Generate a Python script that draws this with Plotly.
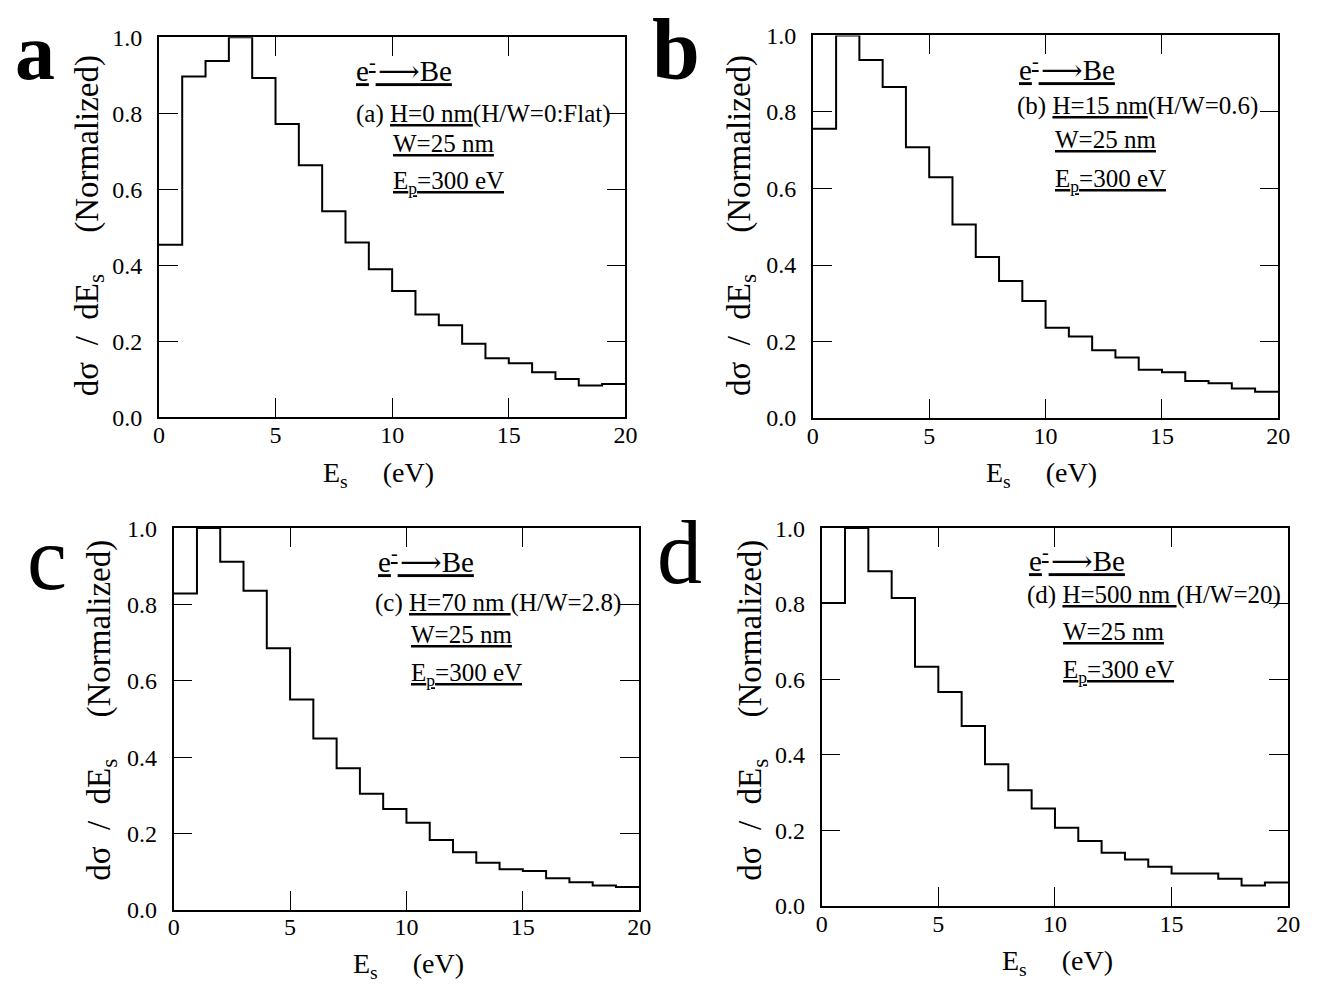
import plotly.graph_objects as go

W, H = 1317, 990

# ---------------- data ----------------
bin_edges = list(range(0, 21))  # Es bins, eV
vals_a = [0.454, 0.897, 0.938, 1.0, 0.893, 0.772, 0.663, 0.542, 0.460, 0.389,
          0.332, 0.270, 0.242, 0.193, 0.155, 0.142, 0.118, 0.100, 0.083, 0.087]
vals_b = [0.756, 1.0, 0.936, 0.865, 0.708, 0.629, 0.506, 0.421, 0.358, 0.306,
          0.236, 0.213, 0.177, 0.158, 0.126, 0.120, 0.097, 0.091, 0.077, 0.069]
vals_c = [0.829, 1.0, 0.912, 0.836, 0.685, 0.551, 0.449, 0.371, 0.304, 0.264,
          0.228, 0.183, 0.151, 0.123, 0.106, 0.102, 0.083, 0.072, 0.064, 0.060]
vals_d = [0.802, 1.0, 0.886, 0.815, 0.633, 0.566, 0.476, 0.375, 0.306, 0.258,
          0.207, 0.172, 0.141, 0.123, 0.104, 0.086, 0.086, 0.072, 0.054, 0.062]
panel_letters = ["a", "b", "c", "d"]
captions = ["(a) <u>H=0 nm</u>(H/W=0:Flat)",
            "(b) <u>H=15 nm</u>(H/W=0.6)",
            "(c) <u>H=70 nm </u>(H/W=2.8)",
            "(d) <u>H=500 nm </u>(H/W=20)"]
x_ticks = [0, 5, 10, 15, 20]
y_ticks = [0.0, 0.2, 0.4, 0.6, 0.8, 1.0]
y_tick_text = ["0.0", "0.2", "0.4", "0.6", "0.8", "1.0"]

# ---------------- layout geometry (pixels) ----------------
FONT = "Liberation Serif, Times New Roman, DejaVu Serif, serif"
panels = [
    dict(vals=vals_a, box=(155, 628, 25, 415), letter=(29, 40, True),
         ytitle=(84, 218), xtitle=(378, 474),
         txt=[(353, 58), (353, 104), (390, 134), (390, 174)]),
    dict(vals=vals_b, box=(818, 1290, 23, 416), letter=(679, 37, True),
         ytitle=(745, 218), xtitle=(1050, 474),
         txt=[(1025, 56), (1023, 96), (1062, 130), (1062, 172)]),
    dict(vals=vals_c, box=(170, 642, 529, 921), letter=(42, 560, False),
         ytitle=(97, 716), xtitle=(408, 978),
         txt=[(375, 562), (372, 606), (409, 638), (409, 679)]),
    dict(vals=vals_d, box=(827, 1300, 529, 917), letter=(683, 554, False),
         ytitle=(757, 716), xtitle=(1066, 975),
         txt=[(1035, 561), (1033, 598), (1070, 635), (1070, 676)]),
]


def px(x):
    return x / W


def py(y):
    return 1 - y / H


fig = go.Figure()
annotations = []
NB = "\u00a0"

for i, p in enumerate(panels):
    n = i + 1
    xa = "x" if n == 1 else f"x{n}"
    ya = "y" if n == 1 else f"y{n}"
    vals = p["vals"]
    xs = bin_edges[:-1] + [bin_edges[-1]]
    ys = vals + [vals[-1]]
    fig.add_trace(go.Scatter(x=xs, y=ys, mode="lines", line_shape="hv",
                             line=dict(color="black", width=2),
                             xaxis=xa, yaxis=ya, showlegend=False,
                             hoverinfo="skip"))
    x0, x1, y0, y1 = p["box"]
    axis_common = dict(showline=True, linecolor="black", linewidth=1.6,
                       mirror="ticks", ticks="inside", ticklen=19,
                       tickwidth=1.4, tickcolor="black", showgrid=False,
                       zeroline=False,
                       tickfont=dict(family=FONT, size=24, color="black"))
    fig.update_layout(**{
        ("xaxis" if n == 1 else f"xaxis{n}"): dict(
            domain=[px(x0), px(x1)], range=[0, 20], anchor=ya,
            tickvals=x_ticks, ticktext=[str(t) for t in x_ticks],
            ticklabelstandoff=-5, **axis_common),
        ("yaxis" if n == 1 else f"yaxis{n}"): dict(
            domain=[py(y1), py(y0)], range=[0, 1.0], anchor=xa,
            tickvals=y_ticks, ticktext=y_tick_text,
            ticklabelstandoff=10, **axis_common),
    })
    # big panel letter
    lx, ly, bold = p["letter"]
    annotations.append(dict(
        x=px(lx), y=py(ly), xref="paper", yref="paper", showarrow=False,
        xanchor="center", yanchor="middle",
        text=f"<b>{panel_letters[i]}</b>" if bold else panel_letters[i],
        font=dict(family=FONT, size=(80 if i == 0 else 86) if bold else 90,
                  color="black")))
    # y title
    tx, ty = p["ytitle"]
    annotations.append(dict(
        x=px(tx), y=py(ty), xref="paper", yref="paper", showarrow=False,
        xanchor="center", yanchor="middle", textangle=-90,
        text=f"dσ{NB*2}/{NB*2}dE<sub>s</sub>{NB*5}(Normalized)",
        font=dict(family=FONT, size=33, color="black")))
    # x title
    tx, ty = p["xtitle"]
    annotations.append(dict(
        x=px(tx), y=py(ty), xref="paper", yref="paper", showarrow=False,
        xanchor="center", yanchor="middle",
        text=f"E<sub>s</sub>{NB*5}(eV)",
        font=dict(family=FONT, size=28, color="black")))
    # in-plot labels
    lines = ["<u>e<sup>-</sup>\u200a⟶Be</u>", captions[i], "<u>W=25 nm</u>",
             "<u>E<sub>p</sub>=300 eV</u>"]
    sizes = [29, 25, 25, 25]
    for (tx, ty), t, s in zip(p["txt"], lines, sizes):
        annotations.append(dict(
            x=px(tx), y=py(ty), xref="paper", yref="paper", showarrow=False,
            xanchor="left", yanchor="middle", text=t,
            font=dict(family=FONT, size=s, color="black")))

fig.update_layout(width=W, height=H, margin=dict(l=0, r=0, t=0, b=0),
                  paper_bgcolor="white", plot_bgcolor="white",
                  annotations=annotations, showlegend=False)

fig.write_html("out.html")
